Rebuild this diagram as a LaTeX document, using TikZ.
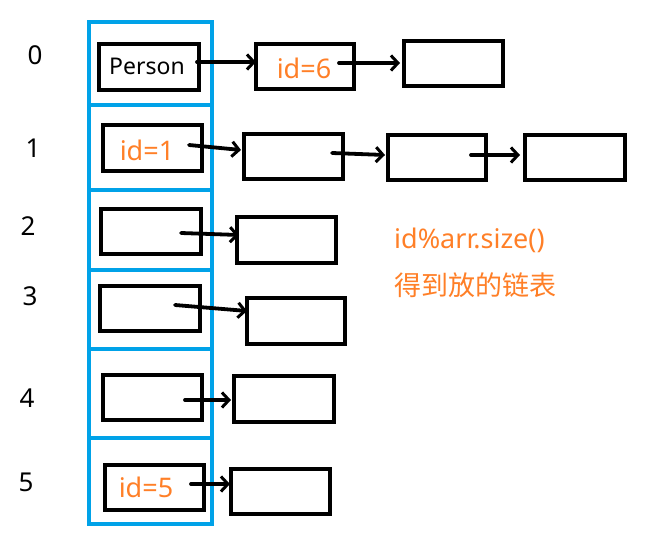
\documentclass[tikz,border=0pt]{standalone}
\usepackage{fontspec}
\setmainfont{Noto Sans}
\newfontfamily\cjk{Noto Sans CJK SC}
\usetikzlibrary{arrows.meta}
\definecolor{pblue}{HTML}{00A2E8}
\definecolor{porange}{HTML}{FF7F27}
\tikzset{
  cell/.style={draw=pblue, line width=3.6pt},
  nbox/.style={draw=black, line width=4pt, inner sep=0pt, anchor=north west},
  lnk/.style={line width=3.8pt, line cap=round, -{Straight Barb[length=7pt,width=15pt,line width=3pt]}},
  idx/.style={font=\fontsize{26}{30}\selectfont, text=black},
  otxt/.style={font=\fontsize{27}{32}\selectfont, text=porange},
}
\begin{document}
\begin{tikzpicture}[x=1pt,y=-1pt]
\useasboundingbox (0,0) rectangle (658,548);
% blue column
\draw[cell] (89,22) rectangle (212,524);
\foreach \yy in {105,190,270,349,438} \draw[cell] (89,\yy) -- (212,\yy);
% index labels
\node[idx] (l0) at (35,55) {0};
\node[idx] (l1) at (33,148) {1};
\node[idx] (l2) at (28,226) {2};
\node[idx] (l3) at (30,296) {3};
\node[idx] (l4) at (27,398) {4};
\node[idx] (l5) at (26,482) {5};
% row 0
\node[nbox, minimum width=100pt, minimum height=46pt] (a0) at (97,42) {};
\node[font=\fontsize{23}{28}\selectfont] (t0) at (147,66) {Person};
\node[nbox, minimum width=98pt, minimum height=45pt] (b0) at (254,42) {};
\node[otxt] (t6) at (304,68) {id=6};
\node[nbox, minimum width=99pt, minimum height=45pt] (c0) at (402,39) {};
\coordinate (s0) at (197,62);
\coordinate (e0) at (256,62);
\coordinate (s0b) at (339,63);
\coordinate (e0b) at (400,63);
\draw[lnk] (s0) -- (e0);
\draw[lnk] (s0b) -- (e0b);
% row 1
\node[nbox, minimum width=99pt, minimum height=46pt] (a1) at (101,123) {};
\node[otxt] (t1) at (147,150) {id=1};
\node[nbox, minimum width=99pt, minimum height=45pt] (b1) at (242,132) {};
\node[nbox, minimum width=98pt, minimum height=45pt] (c1) at (386,133) {};
\node[nbox, minimum width=100pt, minimum height=45pt] (d1) at (523,133) {};
\coordinate (s1) at (189,145);
\coordinate (e1) at (241,150);
\coordinate (s1b) at (332,153);
\coordinate (e1b) at (385,155);
\coordinate (s1c) at (471,155);
\coordinate (e1c) at (520,155);
\draw[lnk] (s1) -- (e1);
\draw[lnk] (s1b) -- (e1b);
\draw[lnk] (s1c) -- (e1c);
% row 2
\node[nbox, minimum width=100pt, minimum height=45pt] (a2) at (99,207) {};
\node[nbox, minimum width=99pt, minimum height=46pt] (b2) at (235,215) {};
\coordinate (s2) at (181,233);
\coordinate (e2) at (239,235);
\draw[lnk] (s2) -- (e2);
% row 3
\node[nbox, minimum width=100pt, minimum height=45pt] (a3) at (98,284) {};
\node[nbox, minimum width=98pt, minimum height=46pt] (b3) at (245,296) {};
\coordinate (s3) at (175,305);
\coordinate (e3) at (247,311);
\draw[lnk] (s3) -- (e3);
% row 4
\node[nbox, minimum width=99pt, minimum height=45pt] (a4) at (101,373) {};
\node[nbox, minimum width=100pt, minimum height=46pt] (b4) at (232,374) {};
\coordinate (s4) at (185,400);
\coordinate (e4) at (231,400);
\draw[lnk] (s4) -- (e4);
% row 5
\node[nbox, minimum width=99pt, minimum height=45pt] (a5) at (103,463) {};
\node[otxt] (t5) at (146,487) {id=5};
\node[nbox, minimum width=99pt, minimum height=45pt] (b5) at (229,467) {};
\coordinate (s5) at (191,484);
\coordinate (e5) at (230,484);
\draw[lnk] (s5) -- (e5);
% note
\node[otxt, anchor=west, inner sep=0pt] (n1) at (394,240) {id\%arr.size()};
\node[otxt, anchor=west, inner sep=0pt] (n2) at (394,285) {\cjk 得到放的链表};
\end{tikzpicture}
\end{document}
